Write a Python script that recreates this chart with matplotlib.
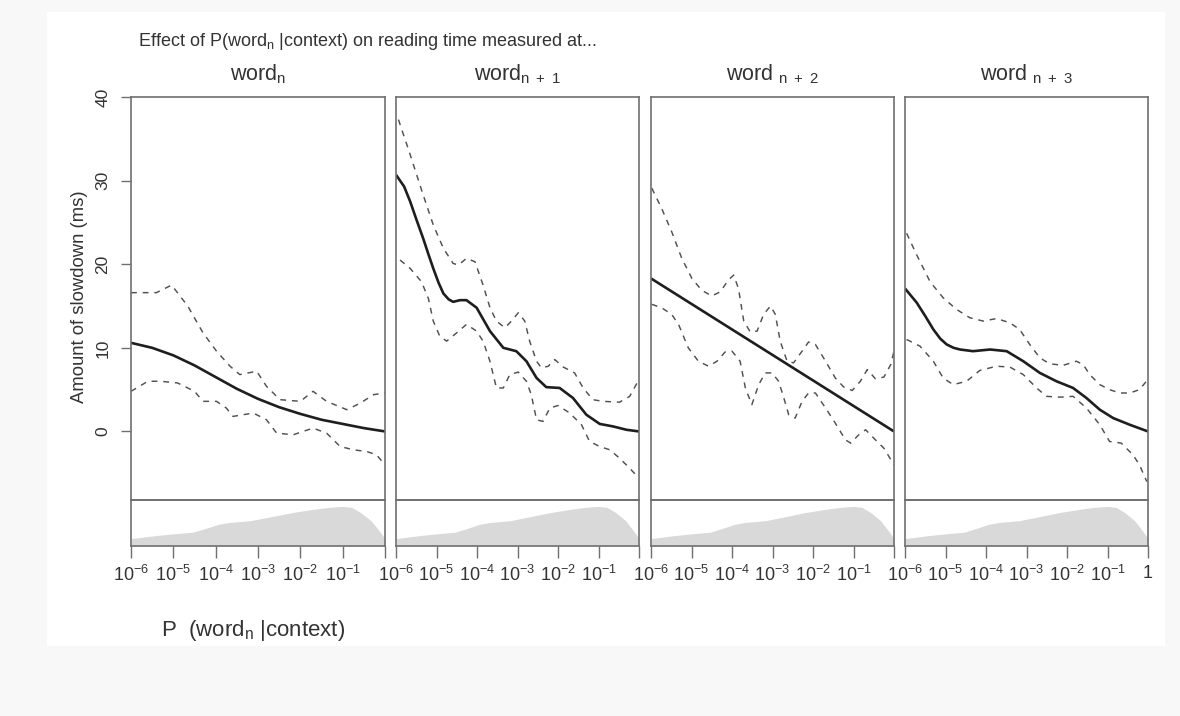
"""Four-panel effect plot: slowdown vs P(word_n | context) at word n..n+3."""
import matplotlib

matplotlib.use("Agg")
import matplotlib.pyplot as plt
import numpy as np
from matplotlib.patches import Rectangle
from matplotlib.ticker import NullLocator

plt.rcParams["font.family"] = ["Liberation Sans", "DejaVu Sans"]
plt.rcParams["mathtext.fontset"] = "custom"
plt.rcParams["mathtext.rm"] = "Liberation Sans"
plt.rcParams["mathtext.it"] = "Liberation Sans:italic"

# --- data (x values are log10 P(word_n | context)) ---------------------------
panel_titles = [
    r"word$_{\mathrm{n}}$",
    r"word$_{\mathrm{n\ +\ 1}}$",
    r"word $_{\mathrm{n\ +\ 2}}$",
    r"word $_{\mathrm{n\ +\ 3}}$",
]
x_tick_logp = [-6, -5, -4, -3, -2, -1, 0]
x_tick_labels = [r"$\mathregular{10^{%d}}$" % k for k in range(-6, 0)]
y_ticks = [0, 10, 20, 30, 40]

density_logp = [-6, -5.48, -5.05, -4.54, -4.28, -3.94, -3.69, -3.18, -2.67,
                -2.17, -1.67, -1.33, -1.0, -0.79, -0.58, -0.33, -0.12, 0]
density = [0.16, 0.22, 0.26, 0.30, 0.37, 0.47, 0.51, 0.55, 0.64,
           0.73, 0.80, 0.84, 0.86, 0.84, 0.73, 0.55, 0.31, 0.16]

# word n
fit1_x = [-6, -5.5, -5, -4.5, -4, -3.5, -3, -2.5, -2, -1.5, -1, -0.5, 0]
fit1_y = [10.6, 10.0, 9.1, 7.9, 6.5, 5.1, 3.9, 2.9, 2.1, 1.4, 0.9, 0.4, 0]
up1_x = [-6, -5.4, -5.04, -4.66, -4.3, -3.98, -3.66, -3.43, -3.03, -2.8, -2.48,
         -2.0, -1.7, -1.38, -0.9, -0.58, -0.27, 0]
up1_y = [16.6, 16.6, 17.5, 15.0, 11.8, 9.6, 7.8, 6.8, 7.2, 5.4, 3.8,
         3.6, 4.8, 3.6, 2.6, 3.4, 4.4, 4.6]
lo1_x = [-6, -5.6, -5.3, -4.9, -4.5, -4.3, -3.98, -3.75, -3.59, -3.11, -2.8,
         -2.56, -2.17, -1.7, -1.38, -1.06, -0.74, -0.43, -0.2, 0]
lo1_y = [4.8, 6.0, 6.0, 5.8, 4.8, 3.6, 3.6, 2.8, 1.8, 2.2, 1.4,
         -0.2, -0.4, 0.4, -0.2, -1.8, -2.2, -2.4, -2.8, -4.0]

# word n+1
fit2_x = [-6, -5.8, -5.65, -5.5, -5.33, -5.2, -5.08, -4.95, -4.83, -4.7, -4.59,
          -4.42, -4.26, -4.01, -3.68, -3.35, -3.03, -2.78, -2.53, -2.29, -1.96,
          -1.63, -1.3, -0.97, -0.64, -0.31, 0]
fit2_y = [30.7, 29.3, 27.5, 25.4, 23.1, 21.2, 19.5, 17.8, 16.5, 15.8, 15.5,
          15.7, 15.7, 14.8, 12.0, 10.0, 9.6, 8.4, 6.4, 5.3, 5.2,
          4.0, 2.0, 0.9, 0.6, 0.2, 0]
up2_x = [-5.94, -5.65, -5.33, -5.08, -4.83, -4.59, -4.46, -4.26, -4.05, -3.85,
         -3.68, -3.52, -3.31, -3.15, -2.98, -2.82, -2.7, -2.53, -2.41, -2.24,
         -2.08, -1.87, -1.59, -1.38, -1.14, -0.89, -0.48, -0.23, -0.07, 0]
up2_y = [37.3, 33.1, 28.3, 24.7, 21.9, 20.1, 19.9, 20.7, 20.3, 17.5,
         14.8, 13.2, 12.4, 13.2, 14.2, 13.2, 10.8, 8.4, 7.6, 7.8,
         8.6, 7.7, 7.0, 5.2, 3.8, 3.6, 3.5, 4.2, 5.6, 6.2]
lo2_x = [-5.9, -5.65, -5.37, -5.2, -5.08, -4.92, -4.75, -4.5, -4.26, -4.01,
         -3.85, -3.68, -3.52, -3.35, -3.19, -2.98, -2.78, -2.66, -2.53, -2.37,
         -2.2, -2.0, -1.71, -1.42, -1.22, -0.97, -0.72, -0.48, -0.23, 0]
lo2_y = [20.5, 19.5, 17.9, 15.9, 13.2, 11.4, 10.8, 11.8, 12.8, 12.0,
         10.8, 8.4, 5.2, 5.2, 6.8, 7.1, 6.0, 4.4, 1.4, 1.2,
         2.8, 3.1, 2.2, 0.8, -1.2, -1.8, -2.2, -3.2, -4.4, -5.6]

# word n+2
fit3_x = [-6, 0]
fit3_y = [18.3, 0]
up3_x = [-5.98, -5.74, -5.49, -5.24, -4.99, -4.75, -4.5, -4.29, -4.09, -3.96,
         -3.84, -3.71, -3.55, -3.38, -3.22, -3.05, -2.93, -2.81, -2.64, -2.48,
         -2.27, -2.11, -1.94, -1.69, -1.45, -1.24, -1.03, -0.83, -0.66, -0.46,
         -0.25, -0.08, 0]
up3_y = [29.1, 26.7, 23.9, 20.7, 18.3, 16.9, 16.2, 16.7, 18.1, 18.7,
         17.1, 13.2, 11.9, 12.0, 14.0, 15.0, 14.0, 10.8, 8.4, 8.2,
         9.6, 10.7, 10.4, 8.4, 6.4, 5.3, 4.9, 6.0, 7.4, 6.3,
         6.5, 8.0, 9.6]
lo3_x = [-5.98, -5.74, -5.49, -5.32, -5.08, -4.83, -4.58, -4.37, -4.17, -4.0,
         -3.8, -3.67, -3.51, -3.34, -3.18, -3.01, -2.85, -2.72, -2.6, -2.44,
         -2.27, -2.11, -1.94, -1.69, -1.45, -1.2, -1.07, -0.87, -0.7, -0.46,
         -0.25, 0]
lo3_y = [15.2, 14.8, 14.0, 12.8, 10.0, 8.4, 7.8, 8.4, 9.5, 9.6,
         8.4, 5.2, 3.2, 5.6, 7.0, 7.0, 6.0, 4.0, 2.0, 1.6,
         3.6, 4.6, 4.6, 2.8, 1.0, -1.0, -1.4, -0.4, 0.2, -1.0,
         -2.0, -4.0]

# word n+3
fit4_x = [-6, -5.71, -5.5, -5.3, -5.13, -4.97, -4.8, -4.64, -4.32, -3.9, -3.49,
          -3.08, -2.67, -2.26, -1.85, -1.52, -1.19, -0.86, -0.45, 0]
fit4_y = [17.1, 15.4, 13.8, 12.2, 11.1, 10.4, 10.0, 9.8, 9.6, 9.8, 9.6,
          8.4, 7.0, 6.0, 5.2, 4.0, 2.6, 1.6, 0.8, 0]
up4_x = [-5.96, -5.71, -5.38, -5.06, -4.73, -4.4, -4.07, -3.74, -3.41, -3.17,
         -2.92, -2.67, -2.43, -2.1, -1.77, -1.6, -1.44, -1.19, -0.95, -0.7,
         -0.45, -0.21, -0.04]
up4_y = [23.7, 21.1, 17.9, 16.0, 14.6, 13.6, 13.2, 13.5, 13.0, 12.2,
         10.4, 8.8, 8.1, 7.9, 8.4, 8.0, 6.8, 5.6, 5.0, 4.6,
         4.6, 5.0, 6.0]
lo4_x = [-5.96, -5.63, -5.3, -5.06, -4.81, -4.48, -4.15, -3.74, -3.41, -3.08,
         -2.75, -2.51, -2.18, -1.85, -1.52, -1.19, -0.95, -0.66, -0.37, -0.21,
         -0.03]
lo4_y = [11.0, 10.2, 8.4, 6.4, 5.6, 6.0, 7.3, 7.8, 7.7, 6.8,
         5.2, 4.2, 4.1, 4.2, 2.8, 0.8, -1.2, -1.4, -2.8, -4.0,
         -6.0]

panels = [
    (fit1_x, fit1_y, up1_x, up1_y, lo1_x, lo1_y),
    (fit2_x, fit2_y, up2_x, up2_y, lo2_x, lo2_y),
    (fit3_x, fit3_y, up3_x, up3_y, lo3_x, lo3_y),
    (fit4_x, fit4_y, up4_x, up4_y, lo4_x, lo4_y),
]

# --- layout (pixel geometry of the original figure) --------------------------
W, H = 1180, 716
TEXT = "#333333"
EDGE = "#707070"
panel_x = [(131, 385), (396, 639), (651, 894), (905, 1148)]
main_top, main_bot, strip_bot = 97, 500, 546


def rect(x0, y0, x1, y1):
    return [x0 / W, 1 - y1 / H, (x1 - x0) / W, (y1 - y0) / H]


def p(logs):
    return 10.0 ** np.asarray(logs, dtype=float)


fig = plt.figure(figsize=(W / 100, H / 100), dpi=100, facecolor="#f8f8f8")
# white "page" behind the plot, drawn beneath every axes
fig.patches.append(Rectangle((47 / W, 1 - 646 / H), (1165 - 47) / W, (646 - 12) / H,
                             transform=fig.transFigure, facecolor="white",
                             edgecolor="none", zorder=-10))

for i, ((x0, x1), title, (fx, fy, ux, uy, lx, ly)) in enumerate(
        zip(panel_x, panel_titles, panels)):
    ax = fig.add_axes(rect(x0, main_top, x1, main_bot))
    ax.set_facecolor("none")
    ax.plot(p(fx), fy, color="#1e1e1e", lw=1.9, solid_capstyle="butt",
            solid_joinstyle="round")
    ax.plot(p(ux), uy, color="#505050", lw=1.05, dashes=(4, 4))
    ax.plot(p(lx), ly, color="#505050", lw=1.05, dashes=(4, 4))
    ax.set_xscale("log")
    ax.set_xlim(1e-6, 1)
    ax.set_ylim(-8.2, 40)
    ax.xaxis.set_major_locator(NullLocator())
    ax.xaxis.set_minor_locator(NullLocator())
    for s in ax.spines.values():
        s.set_color(EDGE)
        s.set_linewidth(1.2)
    if i == 0:
        ax.set_yticks(y_ticks)
        ax.set_yticklabels([str(v) for v in y_ticks], rotation=90, va="center",
                           fontsize=12.5, color=TEXT)
        ax.tick_params(axis="y", length=7, width=1.0, color=EDGE, pad=8)
    else:
        ax.set_yticks([])
    fig.text((x0 + x1) / 2 / W, 1 - 80 / H, title, fontsize=15.5, color=TEXT,
             ha="center", va="baseline")

    sx = fig.add_axes(rect(x0, main_bot, x1, strip_bot))
    sx.set_facecolor("none")
    sx.fill_between(p(density_logp), density, 0, color="#d9d9d9", lw=0)
    sx.set_xscale("log")
    sx.set_xlim(1e-6, 1)
    sx.set_ylim(0, 1)
    sx.set_yticks([])
    sx.set_xticks(p(x_tick_logp))
    sx.xaxis.set_minor_locator(NullLocator())
    last = "1" if i == len(panel_x) - 1 else ""
    sx.set_xticklabels(x_tick_labels + [last], fontsize=13, color=TEXT)
    sx.tick_params(axis="x", length=8.5, width=1.0, color=EDGE, pad=5)
    for s in sx.spines.values():
        s.set_color(EDGE)
        s.set_linewidth(1.2)

fig.text(138 / W, 1 - 46 / H,
         r"Effect of P(word$_{\mathrm{n}}$ |context) on reading time measured at...",
         fontsize=13, color=TEXT, ha="left", va="baseline")
fig.text(79 / W, 1 - 297 / H, "Amount of slowdown (ms)", rotation=90,
         fontsize=13.3, color=TEXT, ha="center", va="center")
fig.text(161 / W, 1 - 636 / H, r"P  (word$_{\mathrm{n}}$ |context)",
         fontsize=16, color=TEXT, ha="left", va="baseline")

fig.savefig("out.png", dpi=100, facecolor=fig.get_facecolor())
